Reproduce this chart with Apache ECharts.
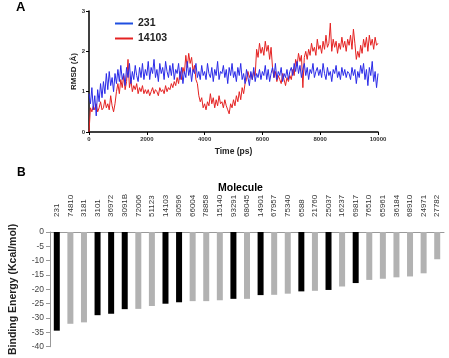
<!DOCTYPE html>
<html>
<head>
<meta charset="utf-8">
<script src="https://cdn.jsdelivr.net/npm/echarts@6/dist/echarts.min.js"></script>
<style>
  html, body { margin: 0; padding: 0; background: #fff; }
  #main { width: 449px; height: 358px; }
</style>
</head>
<body>
<div id="main"></div>
<script>
// RMSD traces, one sample every 50 ps (0 .. 10000)
var timeStep = 50;
var rmsd231 = [
  0.95, 0.7, 1.1, 0.55, 0.9, 0.4, 1.05, 0.75, 1.2, 0.85, 1.25, 0.95, 1.45, 1.05, 1.5, 1.15, 1.35, 1.0, 1.45, 1.2,
  1.55, 1.25, 1.65, 1.3, 1.45, 1.15, 1.6, 1.35, 1.7, 1.2, 1.5, 1.3, 1.65, 1.4, 1.25, 1.6, 1.35, 1.7, 1.3, 1.55,
  1.4, 1.75, 1.3, 1.6, 1.45, 1.8, 1.35, 1.55, 1.25, 1.7, 1.45, 1.6, 1.3, 1.75, 1.5, 1.35, 1.65, 1.4, 1.7, 1.3,
  1.55, 1.45, 1.7, 1.3, 1.6, 1.2, 1.5, 1.35, 1.75, 1.4, 1.6, 1.25, 1.55, 1.45, 1.7, 1.35, 1.5, 1.3, 1.65, 1.4,
  1.5, 1.3, 1.7, 1.45, 1.35, 1.6, 1.25, 1.55, 1.4, 1.75, 1.3, 1.5, 1.45, 1.65, 1.35, 1.55, 1.2, 1.6, 1.4, 1.7,
  1.35, 1.5, 1.25, 1.6, 1.4, 1.7, 1.3, 1.45, 1.2, 1.55, 1.35, 1.15, 1.5, 1.3, 1.6, 1.25, 1.45, 1.35, 1.55, 1.3,
  1.5, 1.4, 1.65, 1.3, 1.55, 1.25, 1.45, 1.6, 1.35, 1.7, 1.3, 1.5, 1.4, 1.6, 1.25, 1.45, 1.35, 1.55, 1.3, 1.5,
  1.6, 1.4, 1.7, 1.5, 1.75, 1.45, 1.65, 1.35, 1.55, 1.7, 1.4, 1.6, 1.3, 1.55, 1.45, 1.7, 1.35, 1.5, 1.6, 1.4,
  1.55, 1.35, 1.7, 1.45, 1.3, 1.6, 1.4, 1.5, 1.25, 1.55, 1.45, 1.65, 1.35, 1.5, 1.3, 1.6, 1.4, 1.55, 1.35, 1.5,
  1.45, 1.3, 1.6, 1.4, 1.55, 1.2, 1.5, 1.35, 1.65, 1.45, 1.7, 1.3, 1.55, 1.15, 1.6, 1.4, 1.75, 1.25, 1.5, 1.1,
  1.45
];
var rmsd14103 = [
  0.0, 0.6, 0.5, 0.65, 0.55, 0.7, 0.5, 0.6, 0.75, 0.55, 0.6, 0.8, 0.6, 0.7, 0.55, 0.9, 0.65, 0.5, 0.7, 1.0,
  1.2, 0.95, 1.3, 1.1, 1.4, 1.05, 1.25, 1.8, 1.1, 1.3, 1.0, 1.15, 1.05, 1.2, 0.95, 1.1, 1.0, 1.15, 0.95, 1.05,
  0.95, 1.05, 0.9, 1.0, 1.1, 0.95, 1.05, 1.0, 0.9, 1.1, 1.0, 1.05, 0.95, 1.15, 1.0, 1.1, 1.05, 1.2, 1.1, 1.25,
  1.15, 1.35, 1.2, 1.5, 1.3, 1.6, 1.45, 1.9, 1.6, 1.95, 1.7, 1.85, 1.5, 1.65, 1.3, 1.2, 0.9, 0.75, 0.85, 0.6,
  0.7, 0.55, 0.75, 0.65, 0.95, 0.7, 0.85, 0.6, 0.8, 0.65, 0.9, 0.7, 0.75, 0.6, 0.8, 0.65, 0.55, 0.45, 0.7, 0.6,
  0.8, 0.65, 0.9, 0.75, 1.0, 0.8, 1.1, 0.95, 1.2, 1.3, 1.5, 1.35, 1.45, 1.3, 1.5, 1.4, 2.05, 1.85, 2.2, 1.95,
  2.1, 1.9, 2.25, 2.0, 2.15, 1.8, 2.1, 1.6, 1.35, 1.5, 1.25, 1.4, 1.3, 1.2, 1.45, 1.3, 1.15, 1.35, 1.25, 1.4,
  1.3, 1.55, 1.4, 1.8, 1.65, 1.95, 1.75, 1.9, 1.1, 1.85, 2.0, 1.8, 2.05, 1.9, 2.2, 2.0, 2.1, 1.9, 2.3, 2.05,
  2.15, 1.95, 2.25, 2.05, 2.4, 2.1, 2.2, 2.7, 2.0, 2.3, 2.1, 2.25, 1.95, 2.2, 2.05, 2.35, 2.1, 2.25, 2.0, 2.3,
  2.15, 2.4, 2.05, 2.55, 2.2, 1.8, 2.0, 1.85, 2.15, 1.95, 2.3, 2.1, 2.35, 2.0, 2.4, 2.15, 2.3, 2.05, 2.35, 2.15,
  2.2
];
var timeTicks = [0, 2000, 4000, 6000, 8000, 10000];

// binding energies
var molecules = ['231', '74810', '3181', '3101', '36972', '3091B', '72006', '51123', '14103', '30596',
  '66004', '78858', '15140', '93291', '68045', '14901', '67957', '75340', '6588', '21760',
  '25037', '16237', '69817', '76510', '65961', '36184', '68910', '24971', '27782'];
var bindingEnergy = [-34.4, -32.0, -31.5, -29.0, -28.5, -26.9, -26.8, -25.8, -25.0, -24.5,
  -24.1, -24.1, -23.8, -23.3, -23.3, -22.0, -21.9, -21.5, -20.7, -20.5,
  -20.2, -19.0, -17.8, -16.7, -16.3, -15.8, -15.5, -14.4, -9.5];
var darkMolecules = ['231', '3101', '36972', '3091B', '14103', '30596', '93291', '14901', '6588', '25037', '69817'];

var font = 'Liberation Sans, Arial, sans-serif';

function pairs(arr) {
  return arr.map(function (v, i) { return [i * timeStep, v]; });
}

var chart = echarts.init(document.getElementById('main'));
var option = {
  animation: false,
  backgroundColor: '#fff',
  textStyle: { fontFamily: font },
  title: [
    { text: 'A', left: 11, top: -4, textStyle: { fontSize: 13, fontWeight: 'bold', color: '#000', fontFamily: font } },
    { text: 'B', left: 12, top: 162, textStyle: { fontSize: 12, fontWeight: 'bold', color: '#000', fontFamily: font } },
    { text: 'Molecule', left: 213, top: 178, textStyle: { fontSize: 10.5, fontWeight: 'bold', color: '#000', fontFamily: font } }
  ],
  legend: {
    data: ['231', '14103'],
    orient: 'vertical',
    left: 110,
    top: 13,
    icon: 'rect',
    itemWidth: 18,
    itemHeight: 2,
    itemGap: 4,
    textStyle: { fontSize: 10.5, fontWeight: 'bold', color: '#222', fontFamily: font }
  },
  grid: [
    { left: 89, right: 71, top: 11, bottom: 226 },
    { left: 42, right: 5, top: 232, bottom: 9 }
  ],
  xAxis: [
    {
      gridIndex: 0, type: 'value', min: 0, max: 10000, interval: 2000,
      name: 'Time (ps)', nameLocation: 'middle', nameGap: 15, nameMoveOverlap: false,
      nameTextStyle: { fontSize: 8.5, fontWeight: 'bold', color: '#222' },
      axisLine: { lineStyle: { color: '#000', width: 1.5 } },
      axisTick: { length: 3, lineStyle: { color: '#000' } },
      axisLabel: { fontSize: 6, fontWeight: 'bold', color: '#333', margin: 4,
        formatter: function (v) { return timeTicks.indexOf(v) >= 0 ? String(v) : ''; } },
      splitLine: { show: false }
    },
    {
      gridIndex: 1, type: 'category', data: molecules, position: 'top',
      axisLine: { lineStyle: { color: '#999', width: 1 } },
      axisTick: { inside: true, length: 3, lineStyle: { color: '#999' } },
      axisLabel: { rotate: 90, fontSize: 8, color: '#333', margin: 15, interval: 0 },
      splitLine: { show: false }
    }
  ],
  yAxis: [
    {
      gridIndex: 0, type: 'value', min: 0, max: 3, interval: 1,
      name: 'RMSD (\u00c5)', nameLocation: 'middle', nameGap: 11, nameMoveOverlap: false,
      nameTextStyle: { fontSize: 8, fontWeight: 'bold', color: '#222' },
      axisLine: { show: true, lineStyle: { color: '#000', width: 1.5 } },
      axisTick: { show: true, length: 3, lineStyle: { color: '#000' } },
      axisLabel: { fontSize: 6, fontWeight: 'bold', color: '#333', margin: 4 },
      splitLine: { show: false }
    },
    {
      gridIndex: 1, type: 'value', min: -40, max: 0, interval: 5,
      name: 'Binding Energy (Kcal/mol)', nameLocation: 'middle', nameGap: 31, nameMoveOverlap: false,
      nameTextStyle: { fontSize: 10.5, fontWeight: 'bold', color: '#222' },
      axisLine: { show: true, lineStyle: { color: '#999', width: 1 } },
      axisTick: { show: true, length: 4, lineStyle: { color: '#999' } },
      axisLabel: { fontSize: 8.5, color: '#444', margin: 6 },
      splitLine: { show: false }
    }
  ],
  series: [
    {
      name: '14103', type: 'line', xAxisIndex: 0, yAxisIndex: 0,
      data: pairs(rmsd14103), showSymbol: false, z: 2,
      itemStyle: { color: '#e42222' },
      lineStyle: { color: '#e42222', width: 1 }
    },
    {
      name: '231', type: 'line', xAxisIndex: 0, yAxisIndex: 0,
      data: pairs(rmsd231), showSymbol: false, z: 3,
      itemStyle: { color: '#1f4fe0' },
      lineStyle: { color: '#2a2ae8', width: 1 }
    },
    {
      name: 'Binding Energy', type: 'bar', xAxisIndex: 1, yAxisIndex: 1,
      data: bindingEnergy, barWidth: 6,
      itemStyle: {
        color: function (p) {
          return darkMolecules.indexOf(molecules[p.dataIndex]) >= 0 ? '#000' : '#b2b2b2';
        }
      }
    }
  ]
};
chart.setOption(option);
</script>
</body>
</html>
